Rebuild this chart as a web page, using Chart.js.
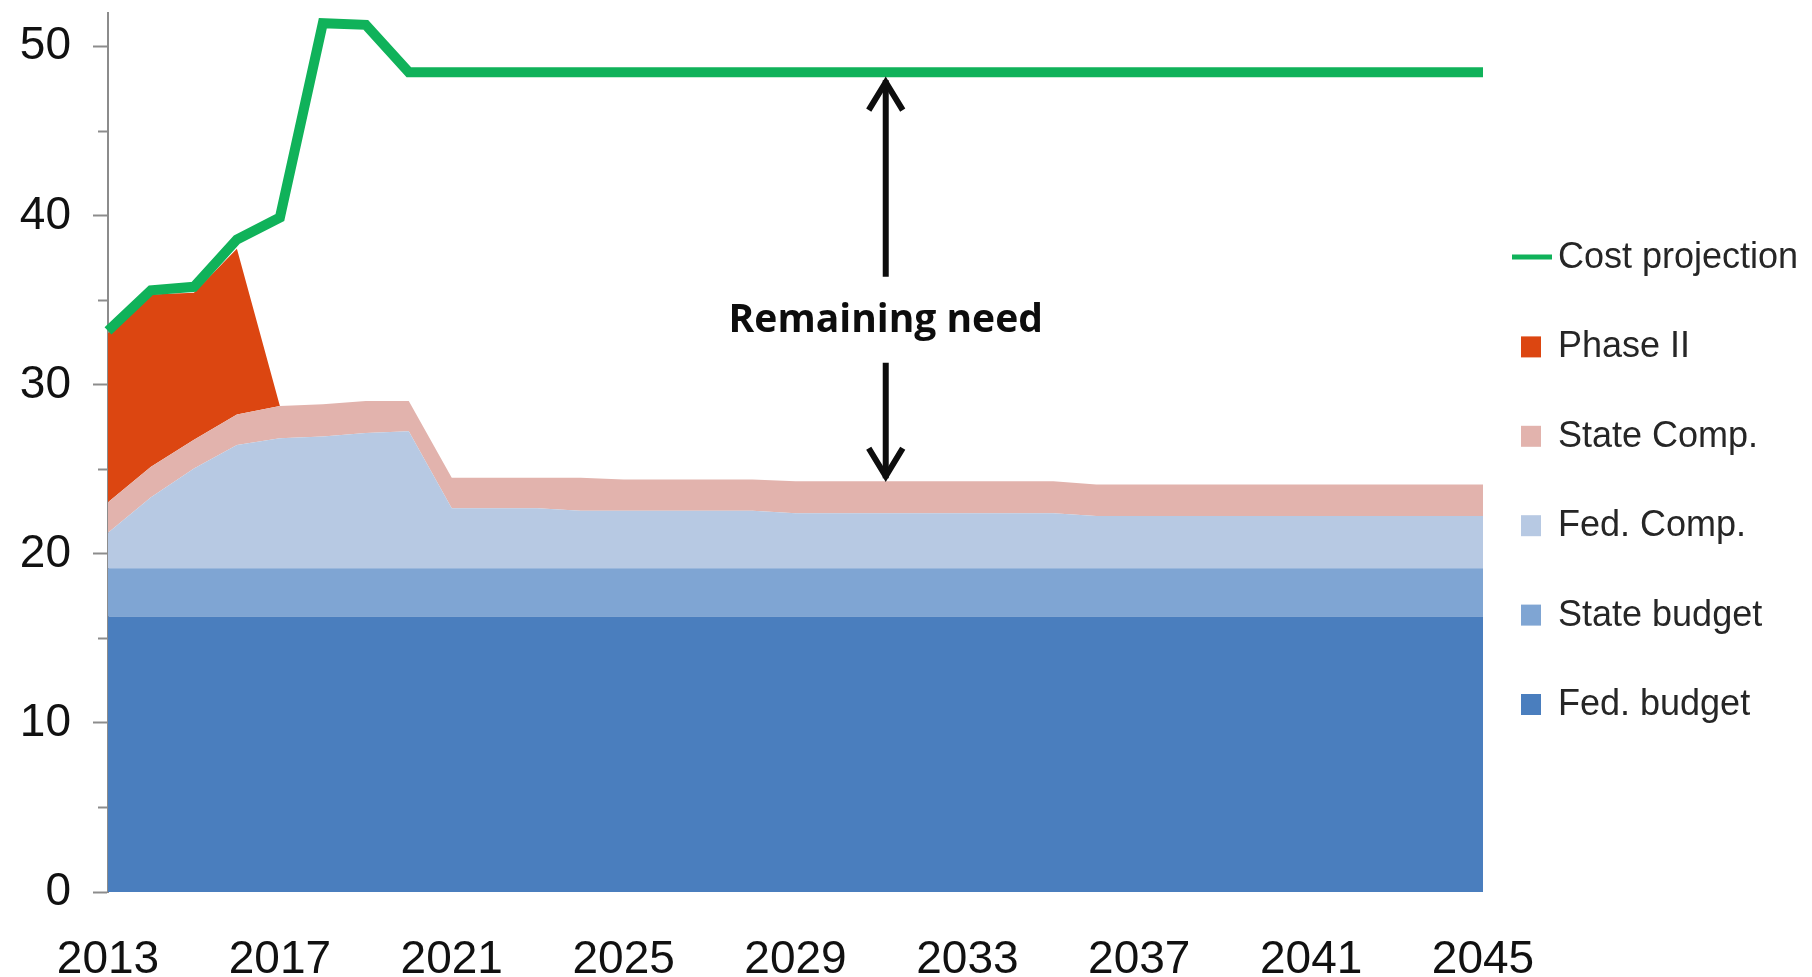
<!DOCTYPE html>
<html>
<head>
<meta charset="utf-8">
<title>Cost projection and funding</title>
<script src="https://cdn.jsdelivr.net/npm/chart.js@4.4.1/dist/chart.umd.min.js"></script>
<style>
    html, body { margin: 0; padding: 0; background: #ffffff; }
    #wrap { width: 1812px; height: 977px; position: relative; }
</style>
</head>
<body>
<div id="wrap"><canvas id="fundingChart"></canvas></div>
<script>
const years = ['2013', '2014', '2015', '2016', '2017', '2018', '2019', '2020', '2021', '2022', '2023',
    '2024', '2025', '2026', '2027', '2028', '2029', '2030', '2031', '2032', '2033', '2034',
    '2035', '2036', '2037', '2038', '2039', '2040', '2041', '2042', '2043', '2044', '2045'];

// stacked layers, bottom to top
const fedBudget = [16.3, 16.3, 16.3, 16.3, 16.3, 16.3, 16.3, 16.3, 16.3, 16.3, 16.3,
    16.3, 16.3, 16.3, 16.3, 16.3, 16.3, 16.3, 16.3, 16.3, 16.3, 16.3,
    16.3, 16.3, 16.3, 16.3, 16.3, 16.3, 16.3, 16.3, 16.3, 16.3, 16.3];
const stateBudget = [2.85, 2.85, 2.85, 2.85, 2.85, 2.85, 2.85, 2.85, 2.85, 2.85, 2.85,
    2.85, 2.85, 2.85, 2.85, 2.85, 2.85, 2.85, 2.85, 2.85, 2.85, 2.85,
    2.85, 2.85, 2.85, 2.85, 2.85, 2.85, 2.85, 2.85, 2.85, 2.85, 2.85];
const fedComp = [2.1, 4.2, 5.9, 7.3, 7.7, 7.8, 8.0, 8.1, 3.55, 3.55, 3.55,
    3.4, 3.4, 3.4, 3.4, 3.4, 3.25, 3.25, 3.25, 3.25, 3.25, 3.25,
    3.25, 3.1, 3.1, 3.1, 3.1, 3.1, 3.1, 3.1, 3.1, 3.1, 3.1];
const stateComp = [1.8, 1.8, 1.7, 1.8, 1.9, 1.9, 1.9, 1.8, 1.8, 1.8, 1.8,
    1.95, 1.85, 1.85, 1.85, 1.85, 1.9, 1.9, 1.9, 1.9, 1.9, 1.9,
    1.9, 1.85, 1.85, 1.85, 1.85, 1.85, 1.85, 1.85, 1.85, 1.85, 1.85];
const phaseTwo = [10.0, 10.2, 8.7, 9.8, 0, 0, 0, 0, 0, 0, 0,
    0, 0, 0, 0, 0, 0, 0, 0, 0, 0, 0,
    0, 0, 0, 0, 0, 0, 0, 0, 0, 0, 0];

const costProjection = [33.2, 35.6, 35.8, 38.6, 39.9, 51.4, 51.3, 48.5, 48.5, 48.5, 48.5,
    48.5, 48.5, 48.5, 48.5, 48.5, 48.5, 48.5, 48.5, 48.5, 48.5, 48.5,
    48.5, 48.5, 48.5, 48.5, 48.5, 48.5, 48.5, 48.5, 48.5, 48.5, 48.5];

const yMajorTicks = [0, 10, 20, 30, 40, 50];
const yMinorTicks = [5, 15, 25, 35, 45];

const AXIS_GREY = '#8c8c8c';

// minor ticks, the "Remaining need" arrow and the legend on the right
const extrasPlugin = {
    id: 'extras',
    afterDraw(chart) {
        const { ctx, chartArea, scales: { x, y } } = chart;
        ctx.save();

        // minor y ticks (shorter than the major ones)
        ctx.strokeStyle = AXIS_GREY;
        ctx.lineWidth = 2;
        yMinorTicks.forEach(v => {
            const py = Math.round(y.getPixelForValue(v)) + 0.5;
            ctx.beginPath();
            ctx.moveTo(chartArea.left - 10, py);
            ctx.lineTo(chartArea.left, py);
            ctx.stroke();
        });

        // arrow between the cost line and the top of the funding stack
        const at = 18.1;
        const i = Math.round(at);
        const stackTop = fedBudget[i] + stateBudget[i] + fedComp[i] + stateComp[i] + phaseTwo[i];
        const ax = x.getPixelForValue(at);
        const topY = y.getPixelForValue(costProjection[i]) + 5;
        const botY = y.getPixelForValue(stackTop);
        const midY = y.getPixelForValue(33.8);

        ctx.strokeStyle = '#0d0d0d';
        ctx.lineWidth = 6;
        ctx.lineCap = 'butt';
        ctx.lineJoin = 'miter';
        ctx.beginPath();
        ctx.moveTo(ax, topY + 3);
        ctx.lineTo(ax, midY - 44);
        ctx.moveTo(ax, midY + 42);
        ctx.lineTo(ax, botY - 3);
        ctx.stroke();

        ctx.beginPath();
        ctx.moveTo(ax - 17, topY + 33);
        ctx.lineTo(ax, topY + 5);
        ctx.lineTo(ax + 17, topY + 33);
        ctx.moveTo(ax - 17, botY - 33);
        ctx.lineTo(ax, botY - 5);
        ctx.lineTo(ax + 17, botY - 33);
        ctx.stroke();

        ctx.fillStyle = '#0d0d0d';
        ctx.font = 'bold 39px "Open Sans", sans-serif';
        ctx.textAlign = 'center';
        ctx.textBaseline = 'middle';
        ctx.fillText('Remaining need', ax, midY);

        // legend
        const order = [0, 5, 4, 3, 2, 1];
        const lx = chartArea.right + 29;
        ctx.font = '36px "Liberation Sans", Arial, sans-serif';
        ctx.textAlign = 'left';
        order.forEach((dsIndex, k) => {
            const ds = chart.data.datasets[dsIndex];
            const cy = 257 + k * 89.4;
            if (dsIndex === 0) {
                ctx.strokeStyle = ds.borderColor;
                ctx.lineWidth = 5;
                ctx.beginPath();
                ctx.moveTo(lx, cy);
                ctx.lineTo(lx + 40, cy);
                ctx.stroke();
            } else {
                ctx.fillStyle = ds.backgroundColor;
                ctx.fillRect(lx + 9, cy - 10, 20, 21);
            }
            ctx.fillStyle = '#262626';
            ctx.fillText(ds.label, lx + 46, cy + 1);
        });

        ctx.restore();
    }
};

const areaStyle = {
    borderWidth: 0,
    pointRadius: 0,
    pointHoverRadius: 0,
    tension: 0,
    stack: 'funding'
};

const ctx = document.getElementById('fundingChart');

new Chart(ctx, {
    type: 'line',
    data: {
        labels: years,
        datasets: [
            {
                label: 'Cost projection',
                data: costProjection,
                borderColor: '#10b25a',
                borderWidth: 10,
                borderJoinStyle: 'miter',
                pointRadius: 0,
                tension: 0,
                fill: false,
                stack: 'cost',
                clip: false
            },
            Object.assign({ label: 'Fed. budget', data: fedBudget, backgroundColor: '#4a7ebe', fill: 'origin' }, areaStyle),
            Object.assign({ label: 'State budget', data: stateBudget, backgroundColor: '#7fa5d3', fill: '-1' }, areaStyle),
            Object.assign({ label: 'Fed. Comp.', data: fedComp, backgroundColor: '#b7c9e3', fill: '-1' }, areaStyle),
            Object.assign({ label: 'State Comp.', data: stateComp, backgroundColor: '#e2b3ad', fill: '-1' }, areaStyle),
            Object.assign({ label: 'Phase II', data: phaseTwo, backgroundColor: '#dc4611', fill: '-1' }, areaStyle)
        ]
    },
    options: {
        responsive: true,
        maintainAspectRatio: false,
        animation: false,
        layout: {
            padding: { top: 13, right: 329, left: 0, bottom: 0 }
        },
        plugins: {
            legend: { display: false },
            tooltip: { enabled: false }
        },
        scales: {
            x: {
                grid: { display: false },
                border: { display: false },
                ticks: {
                    autoSkip: false,
                    maxRotation: 0,
                    padding: 33,
                    color: '#111111',
                    font: { size: 46 },
                    callback: function (value, index) {
                        return index % 4 === 0 ? years[index] : '';
                    }
                },
                afterFit: function (scale) {
                    scale.height = 85;
                }
            },
            y: {
                stacked: true,
                min: 0,
                max: 52,
                afterBuildTicks: function (scale) {
                    scale.ticks = yMajorTicks.map(v => ({ value: v }));
                },
                ticks: {
                    padding: 22,
                    color: '#111111',
                    font: { size: 46 }
                },
                grid: {
                    drawOnChartArea: false,
                    drawTicks: true,
                    tickLength: 15,
                    tickColor: AXIS_GREY,
                    tickWidth: 2
                },
                border: { display: true, color: AXIS_GREY, width: 2 },
                afterFit: function (scale) {
                    scale.width = 108;
                    scale.paddingTop = 0;
                    scale.paddingBottom = 0;
                }
            }
        }
    },
    plugins: [extrasPlugin]
});
</script>
</body>
</html>
